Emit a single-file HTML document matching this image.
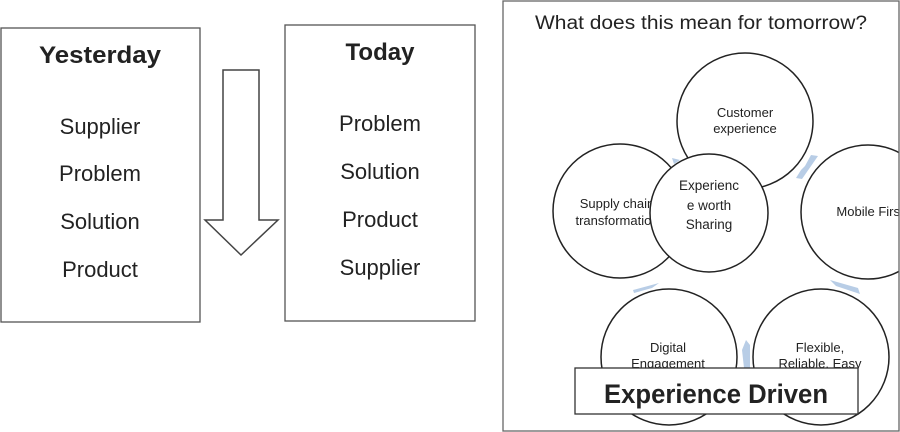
<!DOCTYPE html>
<html><head><meta charset="utf-8"><style>
html,body{margin:0;padding:0;background:#fff;}
svg{display:block;font-family:"Liberation Sans",sans-serif;}
</style></head><body>
<svg width="900" height="432" viewBox="0 0 900 432" xmlns="http://www.w3.org/2000/svg">
<defs><clipPath id="cp"><rect x="503" y="1" width="396" height="430"/></clipPath></defs>
<!-- Yesterday -->
<rect x="1" y="28" width="199" height="294" fill="#fff" stroke="#555" stroke-width="1.3"/>
<text x="100" y="63" font-size="24" font-weight="bold" text-anchor="middle" fill="#222" textLength="122" lengthAdjust="spacingAndGlyphs">Yesterday</text>
<g font-size="22" text-anchor="middle" fill="#222">
<text x="100" y="134">Supplier</text>
<text x="100" y="181">Problem</text>
<text x="100" y="229">Solution</text>
<text x="100" y="277">Product</text>
</g>
<!-- arrow -->
<polygon points="223,70 259,70 259,220 278,220 241,255 205,220 223,220" fill="#fff" stroke="#444" stroke-width="1.5"/>
<!-- Today -->
<rect x="285" y="25" width="190" height="296" fill="#fff" stroke="#555" stroke-width="1.3"/>
<text x="380" y="60" font-size="24" font-weight="bold" text-anchor="middle" fill="#222">Today</text>
<g font-size="22" text-anchor="middle" fill="#222">
<text x="380" y="131">Problem</text>
<text x="380" y="179">Solution</text>
<text x="380" y="227">Product</text>
<text x="380" y="275">Supplier</text>
</g>
<!-- right panel -->
<g clip-path="url(#cp)">
<text x="701" y="29" font-size="19" text-anchor="middle" fill="#222" textLength="332" lengthAdjust="spacingAndGlyphs">What does this mean for tomorrow?</text>
<g fill="#b8cde6">
<polygon points="811,155 818,156 802,179 796,178 801,170 805,166"/>
<polygon points="830,280 858,288 860,294 836,286"/>
<polygon points="746,340 750,345 750,368 744,368 742,350"/>
<polygon points="633,290 659,283 652,288 634,293"/>
<polygon points="672,158 680,160 674,164"/>
</g>
<g fill="#fff" stroke="#222" stroke-width="1.5">
<circle cx="745" cy="121" r="68"/>
<circle cx="620" cy="211" r="67"/>
<circle cx="868" cy="212" r="67"/>
<circle cx="669" cy="357" r="68"/>
<circle cx="821" cy="357" r="68"/>
</g>
<g font-size="13" text-anchor="middle" fill="#222">
<text x="745" y="117">Customer</text>
<text x="745" y="133">experience</text>
<text x="870" y="216">Mobile First</text>
<text x="617" y="208">Supply chain</text>
<text x="617" y="225">transformation</text>
<text x="668" y="352">Digital</text>
<text x="668" y="368">Engagement</text>
<text x="820" y="352">Flexible,</text>
<text x="820" y="368">Reliable, Easy</text>
</g>
<circle cx="709" cy="213" r="59" fill="#fff" stroke="#222" stroke-width="1.5"/>
<g font-size="13.5" text-anchor="middle" fill="#222">
<text x="709" y="190">Experienc</text>
<text x="709" y="210">e worth</text>
<text x="709" y="229">Sharing</text>
</g>
<rect x="575" y="368" width="283" height="46" fill="#fff" stroke="#333" stroke-width="1.3"/>
<text x="716" y="403" font-size="27" font-weight="bold" text-anchor="middle" fill="#222" textLength="224" lengthAdjust="spacingAndGlyphs">Experience Driven</text>
</g>
<rect x="503" y="1" width="396" height="430" fill="none" stroke="#666" stroke-width="1.3"/>
</svg>
</body></html>
